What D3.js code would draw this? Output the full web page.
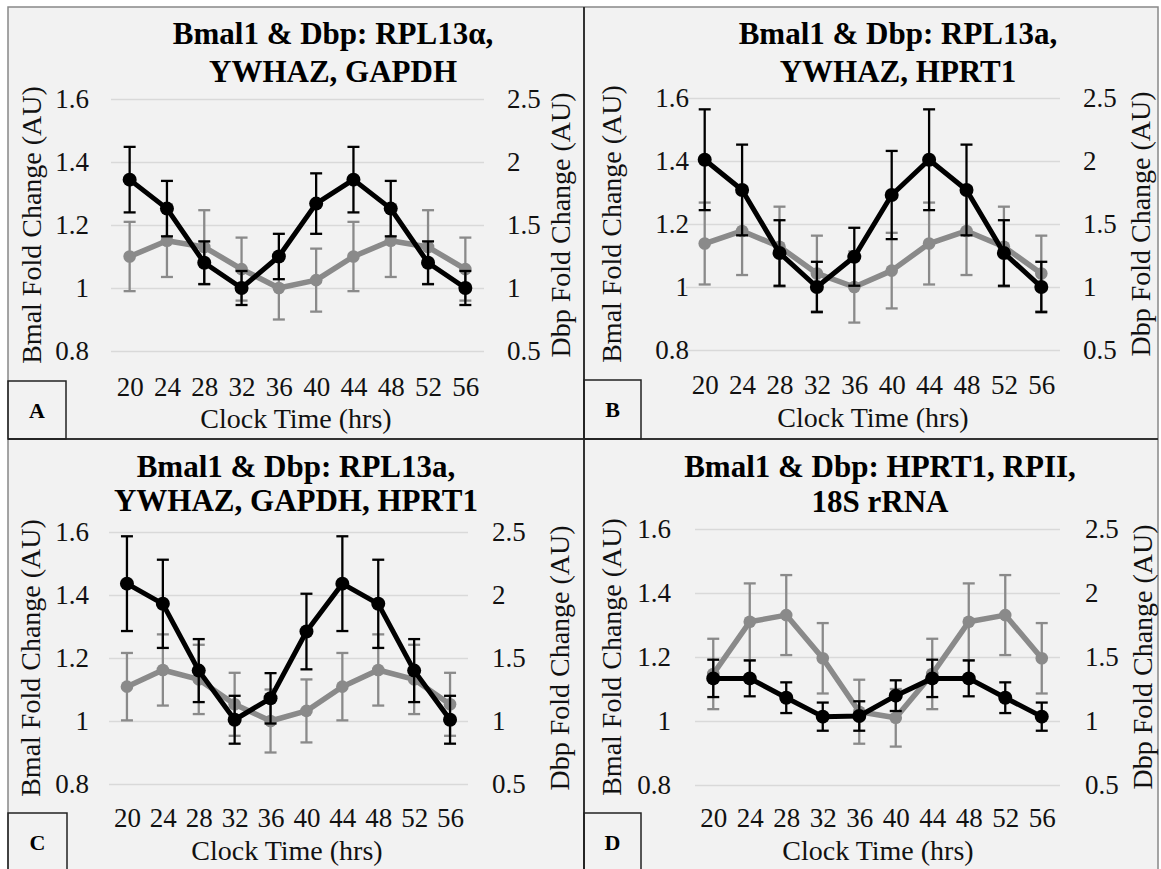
<!DOCTYPE html>
<html>
<head>
<meta charset="utf-8">
<script src="https://cdn.jsdelivr.net/npm/d3@7"></script>
<style>
  body { margin: 0; background: #fff; }
  text { font-family: 'Liberation Serif', 'Times New Roman', serif; }
</style>
</head>
<body>
<svg id="chart" width="1161" height="869"></svg>
<script>
// clock times, double plotted
const hours = [20, 24, 28, 32, 36, 40, 44, 48, 52, 56];
const leftTicks = [0.8, 1, 1.2, 1.4, 1.6];
const rightTicks = [0.5, 1, 1.5, 2, 2.5];

// gray series (left axis) and black series (right axis), with error bars
const bmalA = [1.10, 1.15, 1.13, 1.06, 1.00, 1.025, 1.10, 1.15, 1.13, 1.06];
const bmalErrA = [0.11, 0.115, 0.117, 0.10, 0.10, 0.10, 0.11, 0.115, 0.117, 0.10];
const dbpA = [1.86, 1.63, 1.20, 1.00, 1.25, 1.67, 1.86, 1.63, 1.20, 1.00];
const dbpErrA = [0.26, 0.22, 0.17, 0.135, 0.18, 0.24, 0.26, 0.22, 0.17, 0.135];

const bmalB = [1.138, 1.178, 1.128, 1.043, 1.00, 1.052, 1.138, 1.178, 1.128, 1.043];
const bmalErrB = [0.13, 0.14, 0.127, 0.12, 0.113, 0.12, 0.13, 0.14, 0.127, 0.12];
const dbpB = [2.01, 1.77, 1.27, 1.00, 1.24, 1.73, 2.01, 1.77, 1.27, 1.00];
const dbpErrB = [0.40, 0.36, 0.26, 0.20, 0.23, 0.35, 0.40, 0.36, 0.26, 0.20];

const bmalC = [1.109, 1.162, 1.132, 1.053, 1.00, 1.032, 1.109, 1.162, 1.132, 1.053];
const bmalErrC = [0.107, 0.113, 0.11, 0.10, 0.10, 0.10, 0.107, 0.113, 0.11, 0.10];
const dbpC = [2.09, 1.93, 1.40, 1.01, 1.18, 1.71, 2.09, 1.93, 1.40, 1.01];
const dbpErrC = [0.376, 0.35, 0.25, 0.19, 0.20, 0.30, 0.376, 0.35, 0.25, 0.19];

const bmalD = [1.147, 1.31, 1.331, 1.196, 1.029, 1.01, 1.147, 1.31, 1.331, 1.196];
const bmalErrD = [0.11, 0.12, 0.125, 0.11, 0.10, 0.09, 0.11, 0.12, 0.125, 0.11];
const dbpD = [1.333, 1.333, 1.182, 1.034, 1.039, 1.198, 1.333, 1.333, 1.182, 1.034];
const dbpErrD = [0.146, 0.14, 0.12, 0.11, 0.115, 0.12, 0.146, 0.14, 0.12, 0.11];

const titlesA = ['Bmal1 & Dbp: RPL13\u03b1,', 'YWHAZ, GAPDH'];
const titlesB = ['Bmal1 & Dbp: RPL13a,', 'YWHAZ, HPRT1'];
const titlesC = ['Bmal1 & Dbp: RPL13a,', 'YWHAZ, GAPDH, HPRT1'];
const titlesD = ['Bmal1 & Dbp: HPRT1, RPII,', '18S rRNA'];

const panels = [
  { id: 'A', title: titlesA, bmal: bmalA, bmalErr: bmalErrA, dbp: dbpA, dbpErr: dbpErrA,
    tx: 333, ty: [33, 71], x0: 111, x1: 484, yb: 351, yt: 99,
    lLab: 89, lTit: 31, rLab: 507, rTit: 560, xLabY: 387, xTitY: 418, xTitX: 296, box: [8, 381, 58, 58] },
  { id: 'B', title: titlesB, bmal: bmalB, bmalErr: bmalErrB, dbp: dbpB, dbpErr: dbpErrB,
    tx: 898, ty: [33, 71], x0: 686, x1: 1060, yb: 350, yt: 98,
    lLab: 689, lTit: 611, rLab: 1083, rTit: 1140, xLabY: 385, xTitY: 417, xTitX: 873, box: [584, 380, 57, 59] },
  { id: 'C', title: titlesC, bmal: bmalC, bmalErr: bmalErrC, dbp: dbpC, dbpErr: dbpErrC,
    tx: 296, ty: [466, 500], x0: 109, x1: 468, yb: 784, yt: 532,
    lLab: 89, lTit: 30, rLab: 492, rTit: 559, xLabY: 818, xTitY: 850, xTitX: 287, box: [8, 813, 59, 60] },
  { id: 'D', title: titlesD, bmal: bmalD, bmalErr: bmalErrD, dbp: dbpD, dbpErr: dbpErrD,
    tx: 880, ty: [466, 501], x0: 695, x1: 1060, yb: 785, yt: 529,
    lLab: 671, lTit: 611, rLab: 1085, rTit: 1142, xLabY: 818, xTitY: 850, xTitX: 878, box: [584, 813, 57, 60] }
];

const svg = d3.select('#chart');
const gray = '#8a8a8a';
const serif = "'Liberation Serif', 'Times New Roman', serif";
const fs = 27;

// figure background and frame
svg.append('rect')
  .attr('x', 8).attr('y', 7)
  .attr('width', 1150).attr('height', 870)
  .attr('fill', '#f2f2f2')
  .attr('stroke', '#888')
  .attr('stroke-width', 1.5);

svg.append('line')
  .attr('x1', 584).attr('x2', 584).attr('y1', 7).attr('y2', 869)
  .attr('stroke', '#333').attr('stroke-width', 2);
svg.append('line')
  .attr('x1', 8).attr('x2', 1158).attr('y1', 439).attr('y2', 439)
  .attr('stroke', '#333').attr('stroke-width', 2);

const styleTicks = a => {
  a.select('.domain').remove();
  a.attr('font-family', serif);
  a.selectAll('text')
    .style('font-family', serif)
    .attr('font-size', fs)
    .attr('fill', '#111');
};

const drawSeries = (g, x, y, vals, errs, color, lw, r) => {
  const pts = hours.map((h, i) => ({ h, v: vals[i], e: errs[i] }));

  g.append('path')
    .datum(pts)
    .attr('fill', 'none')
    .attr('stroke', color)
    .attr('stroke-width', lw)
    .attr('stroke-linejoin', 'round')
    .attr('d', d3.line().x(d => x(d.h)).y(d => y(d.v)));

  const bars = g.append('g').attr('stroke', color).attr('stroke-width', 2.3);
  bars.selectAll('.eb')
    .data(pts)
    .enter()
    .append('line')
      .attr('x1', d => x(d.h)).attr('x2', d => x(d.h))
      .attr('y1', d => y(d.v - d.e)).attr('y2', d => y(d.v + d.e));
  bars.selectAll('.cap-top')
    .data(pts)
    .enter()
    .append('line')
      .attr('x1', d => x(d.h) - 6).attr('x2', d => x(d.h) + 6)
      .attr('y1', d => y(d.v + d.e)).attr('y2', d => y(d.v + d.e));
  bars.selectAll('.cap-bot')
    .data(pts)
    .enter()
    .append('line')
      .attr('x1', d => x(d.h) - 6).attr('x2', d => x(d.h) + 6)
      .attr('y1', d => y(d.v - d.e)).attr('y2', d => y(d.v - d.e));

  g.selectAll(null)
    .data(pts)
    .enter()
    .append('circle')
      .attr('cx', d => x(d.h))
      .attr('cy', d => y(d.v))
      .attr('r', r)
      .attr('fill', color);
};

panels.forEach(p => {
  const g = svg.append('g').classed('panel', true);

  const x = d3.scalePoint().domain(hours).range([p.x0, p.x1]).padding(0.5);
  const yL = d3.scaleLinear().domain([0.8, 1.6]).range([p.yb, p.yt]);
  const yR = d3.scaleLinear().domain([0.5, 2.5]).range([p.yb, p.yt]);

  // gridlines
  g.append('g')
    .attr('transform', `translate(${p.x0},0)`)
    .call(d3.axisLeft(yL).tickValues(leftTicks).tickSize(-(p.x1 - p.x0)).tickFormat(''))
    .call(a => a.select('.domain').remove())
    .call(a => a.selectAll('line').attr('stroke', '#d9d9d9').attr('stroke-width', 1.5));

  g.append('g')
    .attr('transform', `translate(${p.x0},0)`)
    .call(d3.axisLeft(yL).tickValues(leftTicks).tickSize(0).tickPadding(p.x0 - p.lLab).tickFormat(d => String(d)))
    .call(styleTicks);

  g.append('g')
    .attr('transform', `translate(${p.x1},0)`)
    .call(d3.axisRight(yR).tickValues(rightTicks).tickSize(0).tickPadding(p.rLab - p.x1).tickFormat(d => String(d)))
    .call(styleTicks);

  g.append('g')
    .attr('transform', `translate(0,${p.yb})`)
    .call(d3.axisBottom(x).tickSize(0).tickPadding(p.xLabY - p.yb - 0.38 * fs))
    .call(styleTicks);

  // titles
  p.title.forEach((t, i) => {
    g.append('text')
      .attr('x', p.tx).attr('y', p.ty[i]).attr('dy', '0.35em')
      .attr('text-anchor', 'middle')
      .style('font-family', serif)
      .attr('font-size', 31).attr('font-weight', 'bold')
      .text(t);
  });

  const midY = (p.yb + p.yt) / 2;
  g.append('text')
    .attr('transform', `translate(${p.lTit},${midY}) rotate(-90)`)
    .attr('dy', '0.35em').attr('text-anchor', 'middle')
    .style('font-family', serif)
    .attr('font-size', 28).attr('fill', '#111')
    .text('Bmal Fold Change (AU)');
  g.append('text')
    .attr('transform', `translate(${p.rTit},${midY}) rotate(-90)`)
    .attr('dy', '0.35em').attr('text-anchor', 'middle')
    .style('font-family', serif)
    .attr('font-size', 28).attr('fill', '#111')
    .text('Dbp Fold Change (AU)');
  g.append('text')
    .attr('x', p.xTitX).attr('y', p.xTitY).attr('dy', '0.35em')
    .attr('text-anchor', 'middle')
    .style('font-family', serif)
    .attr('font-size', 28).attr('fill', '#111')
    .text('Clock Time (hrs)');

  drawSeries(g, x, yL, p.bmal, p.bmalErr, gray, 5.5, 6.3);
  drawSeries(g, x, yR, p.dbp, p.dbpErr, '#000', 5, 7);

  // panel letter box
  g.append('rect')
    .attr('x', p.box[0]).attr('y', p.box[1])
    .attr('width', p.box[2]).attr('height', p.box[3])
    .attr('fill', 'none').attr('stroke', '#222').attr('stroke-width', 1.5);
  g.append('text')
    .attr('x', p.box[0] + p.box[2] / 2).attr('y', p.box[1] + 29).attr('dy', '0.35em')
    .attr('text-anchor', 'middle')
    .style('font-family', serif)
    .attr('font-size', 22).attr('font-weight', 'bold')
    .text(p.id);
});
</script>
</body>
</html>
